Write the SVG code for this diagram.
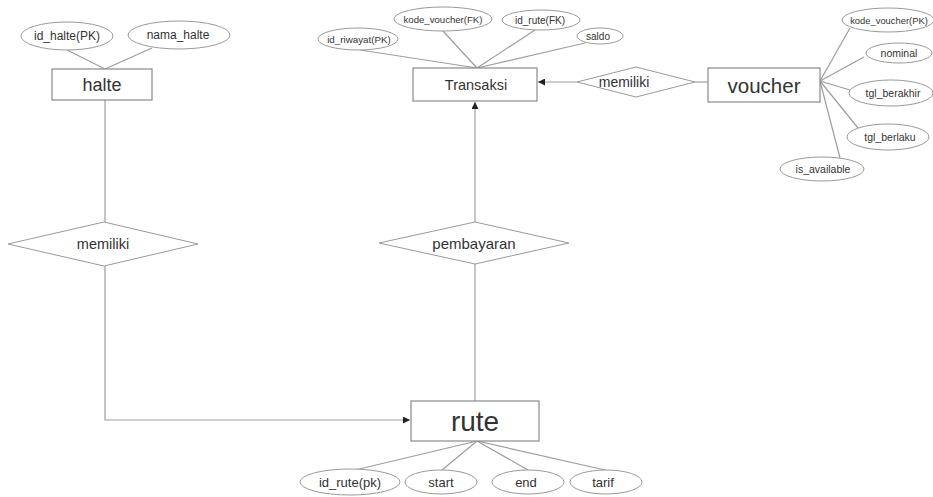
<svg xmlns="http://www.w3.org/2000/svg" width="933" height="497" viewBox="0 0 933 497">
  <style>
    .ent { fill: #ffffff; stroke: #8a8a8a; stroke-width: 1.2; }
    .attr { fill: #ffffff; stroke: #9a9a9a; stroke-width: 1; }
    .rel { fill: #ffffff; stroke: #9a9a9a; stroke-width: 1; }
    .link { fill: none; stroke: #9e9e9e; stroke-width: 1.2; }
    text { font-family: "Liberation Sans", Arial, sans-serif; fill: #333333; text-anchor: middle; dominant-baseline: central; }
    .a12 { font-size: 12px; }
    .a10 { font-size: 10px; }
    .a13 { font-size: 13px; }
  </style>
  <defs>
    <marker id="arrow" viewBox="0 0 10 10" refX="10" refY="5" markerWidth="9" markerHeight="7" markerUnits="userSpaceOnUse" orient="auto">
      <path d="M0,0 L10,5 L0,10 z" fill="#222222"/>
    </marker>
  </defs>
  <rect width="933" height="497" fill="#ffffff"/>

  <!-- connectors -->
  <g id="connectors">
    <!-- halte attributes -->
    <line class="link" x1="67" y1="50" x2="105" y2="69"/>
    <line class="link" x1="152" y1="48" x2="105" y2="69"/>
    <!-- Transaksi attributes -->
    <line class="link" x1="360" y1="50" x2="477" y2="68"/>
    <line class="link" x1="443" y1="31" x2="477" y2="68"/>
    <line class="link" x1="535" y1="30" x2="477" y2="68"/>
    <line class="link" x1="585" y1="43" x2="477" y2="68"/>
    <!-- voucher attributes -->
    <line class="link" x1="820" y1="81" x2="850" y2="28"/>
    <line class="link" x1="820" y1="81" x2="864" y2="57"/>
    <line class="link" x1="820" y1="81" x2="850" y2="90"/>
    <line class="link" x1="820" y1="81" x2="858" y2="128"/>
    <line class="link" x1="820" y1="81" x2="840" y2="158"/>
    <!-- rute attributes -->
    <line class="link" x1="477" y1="441" x2="355" y2="470"/>
    <line class="link" x1="477" y1="441" x2="442" y2="470"/>
    <line class="link" x1="477" y1="441" x2="528" y2="470"/>
    <line class="link" x1="477" y1="441" x2="605" y2="470"/>
    <!-- relationships -->
    <line class="link" x1="105" y1="100" x2="105" y2="222"/>
    <polyline class="link" points="105,266 105,420 410,420" marker-end="url(#arrow)"/>
    <line class="link" x1="475" y1="401" x2="475" y2="264"/>
    <line class="link" x1="475" y1="222" x2="475" y2="102" marker-end="url(#arrow)"/>
    <line class="link" x1="708" y1="82" x2="695" y2="82"/>
    <line class="link" x1="577" y1="82" x2="538" y2="82" marker-end="url(#arrow)"/>
  </g>

  <!-- halte -->
  <g id="halte">
    <rect class="ent" x="52" y="69" width="100" height="31"/>
    <text x="102" y="85" style="font-size:18px">halte</text>
  </g>
  <g id="attr-id-halte">
    <ellipse class="attr" cx="67" cy="36" rx="46" ry="14"/>
    <text class="a12" x="67" y="36">id_halte(PK)</text>
  </g>
  <g id="attr-nama-halte">
    <ellipse class="attr" cx="179" cy="35" rx="51" ry="14"/>
    <text class="a12" x="178" y="35">nama_halte</text>
  </g>

  <!-- Transaksi -->
  <g id="transaksi">
    <rect class="ent" x="413" y="68" width="124" height="33"/>
    <text x="476" y="85" style="font-size:14.5px">Transaksi</text>
  </g>
  <g id="attr-id-riwayat">
    <ellipse class="attr" cx="358" cy="39" rx="40" ry="11"/>
    <text class="a10" x="359" y="39" style="font-size:9.8px">id_riwayat(PK)</text>
  </g>
  <g id="attr-kode-voucher-fk">
    <ellipse class="attr" cx="443" cy="19" rx="49" ry="12"/>
    <text class="a10" x="443" y="19" style="font-size:9.6px">kode_voucher(FK)</text>
  </g>
  <g id="attr-id-rute-fk">
    <ellipse class="attr" cx="541" cy="20" rx="39" ry="10"/>
    <text class="a10" x="540" y="20">id_rute(FK)</text>
  </g>
  <g id="attr-saldo">
    <ellipse class="attr" cx="600" cy="36" rx="23" ry="8"/>
    <text class="a10" x="598" y="36">saldo</text>
  </g>

  <!-- memiliki (Transaksi - voucher) -->
  <g id="rel-memiliki-voucher">
    <polygon class="rel" points="577,82 636,67 695,82 636,97"/>
    <text x="624" y="82" style="font-size:14px">memiliki</text>
  </g>

  <!-- voucher -->
  <g id="voucher">
    <rect class="ent" x="708" y="68" width="112" height="34"/>
    <text x="764" y="85" style="font-size:20.5px">voucher</text>
  </g>
  <g id="attr-kode-voucher-pk">
    <ellipse class="attr" cx="888" cy="20" rx="46" ry="12"/>
    <text class="a10" x="889" y="20" style="font-size:9.4px">kode_voucher(PK)</text>
  </g>
  <g id="attr-nominal">
    <ellipse class="attr" cx="899" cy="53" rx="33" ry="10"/>
    <text class="a10" x="899" y="53" style="font-size:10.5px">nominal</text>
  </g>
  <g id="attr-tgl-berakhir">
    <ellipse class="attr" cx="891" cy="93" rx="42" ry="13"/>
    <text class="a10" x="893" y="93" style="font-size:10.5px">tgl_berakhir</text>
  </g>
  <g id="attr-tgl-berlaku">
    <ellipse class="attr" cx="888" cy="137" rx="41" ry="13"/>
    <text class="a10" x="890" y="137" style="font-size:10.5px">tgl_berlaku</text>
  </g>
  <g id="attr-is-available">
    <ellipse class="attr" cx="822" cy="169" rx="42" ry="12"/>
    <text class="a10" x="823" y="169" style="font-size:10.5px">is_available</text>
  </g>

  <!-- memiliki (halte - rute) -->
  <g id="rel-memiliki-halte">
    <polygon class="rel" points="8,244 104,222 198,244 104,266"/>
    <text x="103" y="244" style="font-size:14.5px">memiliki</text>
  </g>

  <!-- pembayaran -->
  <g id="rel-pembayaran">
    <polygon class="rel" points="379,243 475,222 569,243 475,264"/>
    <text x="474" y="243" style="font-size:15px">pembayaran</text>
  </g>

  <!-- rute -->
  <g id="rute">
    <rect class="ent" x="411" y="401" width="128" height="40"/>
    <text x="475" y="421" style="font-size:28px">rute</text>
  </g>
  <g id="attr-id-rute-pk">
    <ellipse class="attr" cx="350" cy="482" rx="50" ry="13"/>
    <text class="a13" x="350" y="482">id_rute(pk)</text>
  </g>
  <g id="attr-start">
    <ellipse class="attr" cx="441" cy="482" rx="36" ry="12"/>
    <text class="a13" x="441" y="482">start</text>
  </g>
  <g id="attr-end">
    <ellipse class="attr" cx="528" cy="482" rx="36" ry="12"/>
    <text class="a13" x="526" y="482">end</text>
  </g>
  <g id="attr-tarif">
    <ellipse class="attr" cx="606" cy="482" rx="36" ry="12"/>
    <text class="a13" x="603" y="482">tarif</text>
  </g>
</svg>
